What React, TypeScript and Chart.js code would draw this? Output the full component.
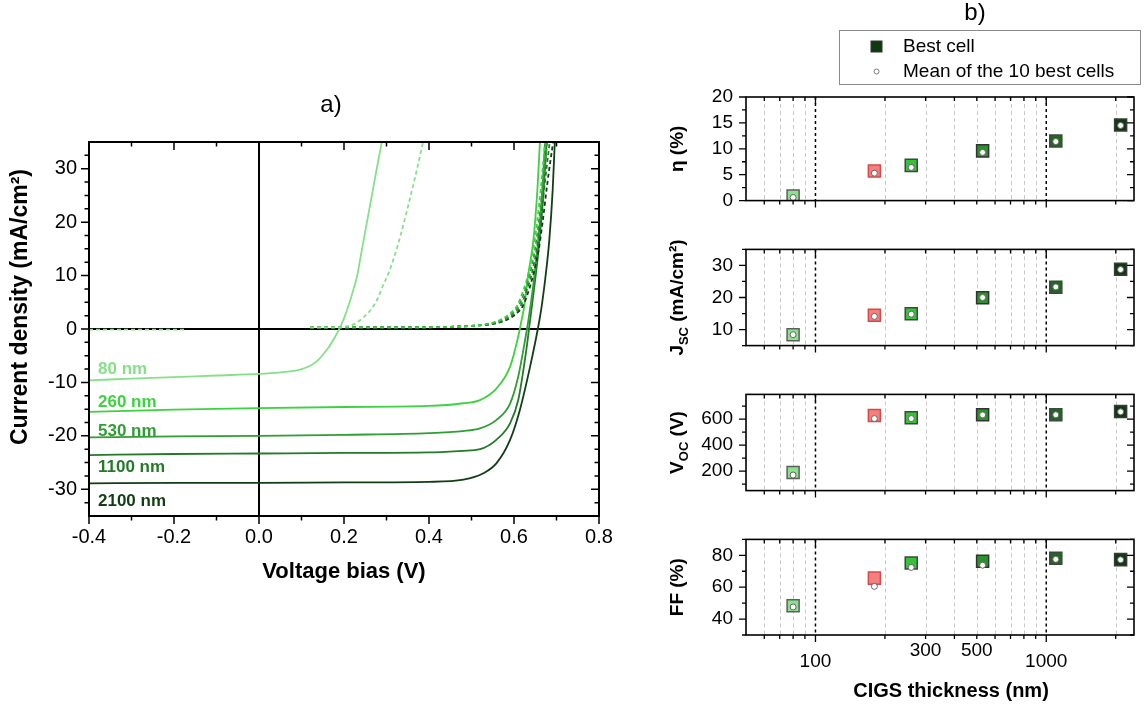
import React, { useEffect, useRef } from 'react';
import { Chart, registerables } from 'chart.js';

Chart.register(...registerables);

const FONT = '"Liberation Sans", Arial, Helvetica, sans-serif';

// ---------------- Panel a) : J-V curves ----------------
const jvXTicks = [-0.4, -0.2, 0, 0.2, 0.4, 0.6, 0.8];
const jvXMinor = [-0.3, -0.1, 0.1, 0.3, 0.5, 0.7];
const jvYTicks = [-30, -20, -10, 0, 10, 20, 30];
const jvYMinor = [-32.5, -27.5, -25, -22.5, -17.5, -15, -12.5, -7.5, -5, -2.5, 2.5, 5, 7.5, 12.5, 15, 17.5, 22.5, 25, 27.5, 32.5];

const curveNames = ['80 nm', '260 nm', '530 nm', '1100 nm', '2100 nm'];
const curveColors = ['#86E08A', '#3DD23F', '#2F9E35', '#237A28', '#123E15'];

// illuminated (solid) curves
const v80Light = [-0.4, -0.3, -0.2, -0.1, 0, 0.05, 0.096, 0.133, 0.161, 0.175, 0.189, 0.2, 0.21, 0.22, 0.231, 0.242, 0.254, 0.266, 0.277, 0.289];
const j80Light = [-9.6, -9.3, -9.0, -8.7, -8.4, -8.1, -7.6, -6.25, -3.75, -2.0, 0, 2.0, 4.2, 6.8, 10, 14.8, 20, 25.2, 30, 35];
const v260Light = [-0.4, -0.2, 0, 0.2, 0.4, 0.48, 0.52, 0.559, 0.591, 0.61, 0.618, 0.624, 0.634, 0.6455, 0.655, 0.661];
const j260Light = [-15.5, -15.1, -14.8, -14.6, -14.4, -13.9, -13.3, -11.1, -7.0, -1.4, 1.7, 4.2, 10.4, 16.6, 26, 35];
const v530Light = [-0.4, -0.2, 0, 0.2, 0.4, 0.48, 0.52, 0.559, 0.591, 0.61, 0.626, 0.634, 0.645, 0.655, 0.665, 0.673];
const j530Light = [-20.3, -20.1, -20.0, -19.8, -19.5, -19.1, -18.6, -17.0, -13.9, -8.9, -2.1, 1.7, 8, 15, 24, 35];
const v1100Light = [-0.4, -0.2, 0, 0.2, 0.4, 0.48, 0.52, 0.559, 0.591, 0.61, 0.629, 0.637, 0.648, 0.658, 0.668, 0.677];
const j1100Light = [-23.6, -23.4, -23.3, -23.2, -23.1, -22.8, -22.5, -20.7, -17.6, -13.3, -3.9, 1.1, 8, 15, 24, 35];
const v2100Light = [-0.4, -0.2, 0, 0.2, 0.4, 0.481, 0.528, 0.559, 0.591, 0.614, 0.638, 0.656, 0.665, 0.675, 0.683, 0.691, 0.696];
const j2100Light = [-28.9, -28.8, -28.8, -28.7, -28.6, -28.2, -27.0, -25.1, -20.7, -15.1, -7.0, 0, 4.2, 10.4, 16.6, 26, 35];

// dark (dashed) curves
const v80Dark = [-0.4, -0.3, -0.17, -0.16, 0.12, 0.18, 0.2, 0.226, 0.25, 0.264, 0.28, 0.291, 0.305, 0.319, 0.333, 0.347, 0.36, 0.37, 0.386];
const j80Dark = [-0.1, -0.1, -0.1, null, 0.3, 0.3, 0.4, 1, 2.5, 3.7, 5.8, 8, 10.5, 13.7, 17.5, 21.8, 26, 29.3, 35];
const v260Dark = [0.12, 0.3, 0.45, 0.5, 0.54, 0.57, 0.595, 0.606, 0.62, 0.634, 0.645, 0.654, 0.664, 0.673];
const j260Dark = [0.3, 0.3, 0.4, 0.6, 1.0, 1.8, 3.2, 4.2, 6.8, 10.4, 14.8, 19.8, 27, 35];
const v530Dark = [0.12, 0.3, 0.45, 0.5, 0.545, 0.575, 0.6, 0.61, 0.624, 0.638, 0.649, 0.658, 0.668, 0.678];
const j530Dark = [0.3, 0.3, 0.4, 0.6, 1.0, 1.8, 3.2, 4.2, 6.8, 10.4, 14.8, 19.8, 27, 35];
const v1100Dark = [0.12, 0.3, 0.45, 0.5, 0.55, 0.58, 0.605, 0.615, 0.628, 0.642, 0.653, 0.662, 0.672, 0.684];
const j1100Dark = [0.3, 0.3, 0.4, 0.6, 1.0, 1.8, 3.2, 4.2, 6.8, 10.4, 14.8, 19.8, 27, 35];
const v2100Dark = [0.12, 0.3, 0.45, 0.5, 0.555, 0.585, 0.61, 0.62, 0.633, 0.646, 0.658, 0.667, 0.678, 0.692];
const j2100Dark = [0.3, 0.3, 0.4, 0.6, 1.0, 1.8, 3.2, 4.2, 6.8, 10.4, 14.8, 19.8, 27, 35];

// ---------------- Panel b) : cell parameters vs thickness ----------------
const thicknessNm = [80, 180, 260, 530, 1100, 2100];
const etaBest = [0.9, 5.7, 6.8, 9.6, 11.5, 14.6];
const etaMean = [0.6, 5.3, 6.4, 9.3, 11.4, 14.5];
const jscBest = [8.4, 14.5, 14.9, 19.9, 23.2, 28.8];
const jscMean = [8.4, 14.1, 14.8, 20.0, 23.3, 28.7];
const vocBest = [190, 627, 611, 633, 634, 658];
const vocMean = [170, 604, 604, 632, 633, 656];
const ffBest = [48.3, 65.7, 75.2, 76.3, 78.2, 77.3];
const ffMean = [47.6, 60.5, 72.4, 73.8, 77.5, 77.2];

const markerFill = ['#8BE28D', '#F47F7F', '#35C437', '#2A922C', '#1D6A1F', '#0E3A10'];
const markerBorder = ['#5E5E5E', '#D94848', '#444444', '#333333', '#444444', '#3A3A3A'];

const logMajor = [100, 1000];
const logMinor = [60, 70, 80, 90, 200, 300, 400, 500, 600, 700, 800, 900, 2000];
const thicknessLabels = [100, 300, 500, 1000];

const etaTicks = [0, 5, 10, 15, 20];
const etaMinor = [2.5, 7.5, 12.5, 17.5];
const jscTicks = [10, 20, 30];
const jscMinor = [5, 15, 25, 35];
const vocTicks = [200, 400, 600];
const vocMinor = [100, 300, 500, 700];
const ffTicks = [40, 60, 80];
const ffMinor = [30, 50, 70, 90];

const legendLabels = ['Best cell', 'Mean of the 10 best cells'];

type Part = { t: string; sub?: boolean };

function drawRich(ctx: CanvasRenderingContext2D, parts: Part[], x: number, y: number, size: number, bold: boolean, rotate: boolean) {
  const w = bold ? 'bold ' : '';
  const fMain = `${w}${size}px ${FONT}`;
  const fSub = `${w}${Math.round(size * 0.68)}px ${FONT}`;
  let total = 0;
  const widths = parts.map((p) => {
    ctx.font = p.sub ? fSub : fMain;
    const m = ctx.measureText(p.t).width;
    total += m;
    return m;
  });
  ctx.save();
  ctx.translate(x, y);
  if (rotate) ctx.rotate(-Math.PI / 2);
  ctx.fillStyle = '#000';
  ctx.textBaseline = 'middle';
  ctx.textAlign = 'left';
  let cx = -total / 2;
  parts.forEach((p, i) => {
    ctx.font = p.sub ? fSub : fMain;
    ctx.fillText(p.t, cx, p.sub ? size * 0.32 : 0);
    cx += widths[i];
  });
  ctx.restore();
}

function framePlugin(spec: { xMajor: number[]; xMinor: number[]; yMajor: number[]; yMinor: number[]; major: number; minor: number; lw: number; frame: number }) {
  return {
    id: 'frameTicks',
    afterDatasetsDraw(chart: any) {
      const { ctx, chartArea: a, scales } = chart;
      const xs = scales.x;
      const ys = scales.y;
      ctx.save();
      ctx.strokeStyle = '#000';
      ctx.setLineDash([]);
      ctx.lineWidth = spec.lw;
      ctx.beginPath();
      const xt = (vals: number[], len: number) =>
        vals.forEach((v) => {
          const px = xs.getPixelForValue(v);
          if (px < a.left - 0.5 || px > a.right + 0.5) return;
          ctx.moveTo(px, a.bottom);
          ctx.lineTo(px, a.bottom + len);
          ctx.moveTo(px, a.top);
          ctx.lineTo(px, a.top + len);
        });
      const yt = (vals: number[], len: number) =>
        vals.forEach((v) => {
          const py = ys.getPixelForValue(v);
          if (py < a.top - 0.5 || py > a.bottom + 0.5) return;
          ctx.moveTo(a.left, py);
          ctx.lineTo(a.left - len, py);
          ctx.moveTo(a.right, py);
          ctx.lineTo(a.right - len, py);
        });
      xt(spec.xMajor, spec.major);
      xt(spec.xMinor, spec.minor);
      yt(spec.yMajor, spec.major);
      yt(spec.yMinor, spec.minor);
      ctx.stroke();
      ctx.lineWidth = spec.frame;
      ctx.strokeRect(a.left, a.top, a.right - a.left, a.bottom - a.top);
      ctx.restore();
    },
  };
}

function pts(xs: number[], ys: (number | null)[]) {
  return xs.map((x, i) => ({ x, y: ys[i] }));
}

function buildLeft(): any {
  const solid = [
    [v80Light, j80Light],
    [v260Light, j260Light],
    [v530Light, j530Light],
    [v1100Light, j1100Light],
    [v2100Light, j2100Light],
  ];
  const dashed = [
    [v80Dark, j80Dark],
    [v260Dark, j260Dark],
    [v530Dark, j530Dark],
    [v1100Dark, j1100Dark],
    [v2100Dark, j2100Dark],
  ];
  const datasets: any[] = [];
  dashed.forEach(([v, j], i) =>
    datasets.push({
      label: curveNames[i] + ' dark',
      data: pts(v as number[], j as (number | null)[]),
      borderColor: curveColors[i],
      borderWidth: 1.8,
      borderDash: [4, 3],
      pointRadius: 0,
      cubicInterpolationMode: 'monotone',
      spanGaps: false,
      fill: false,
    })
  );
  solid.forEach(([v, j], i) =>
    datasets.push({
      label: curveNames[i],
      data: pts(v as number[], j as number[]),
      borderColor: curveColors[i],
      borderWidth: 1.8,
      pointRadius: 0,
      cubicInterpolationMode: 'monotone',
      fill: false,
    })
  );
  const labelY = [369, 402, 431, 467, 501];
  return {
    type: 'line',
    data: { datasets },
    options: {
      animation: false,
      responsive: false,
      maintainAspectRatio: false,
      layout: { padding: { left: 0, top: 142, right: 41, bottom: 0 } },
      plugins: { legend: { display: false }, tooltip: { enabled: false } },
      scales: {
        x: {
          type: 'linear',
          min: -0.4,
          max: 0.8,
          afterFit: (s: any) => { s.height = 84; },
          afterBuildTicks: (s: any) => { s.ticks = jvXTicks.map((v) => ({ value: v })); },
          ticks: {
            callback: (v: any) => Number(v).toFixed(1),
            font: { family: FONT, size: 20 },
            color: '#000',
            padding: 9,
            maxRotation: 0,
            autoSkip: false,
          },
          grid: { display: false, drawTicks: false },
          border: { display: false },
          title: {
            display: true,
            text: 'Voltage bias (V)',
            font: { family: FONT, size: 22, weight: 'bold' },
            color: '#000',
            padding: { top: 0, bottom: 15 },
          },
        },
        y: {
          type: 'linear',
          min: -35,
          max: 35,
          afterFit: (s: any) => { s.width = 89; },
          afterBuildTicks: (s: any) => { s.ticks = jvYTicks.map((v) => ({ value: v })); },
          ticks: { font: { family: FONT, size: 20 }, color: '#000', padding: 12, autoSkip: false },
          grid: { display: false, drawTicks: false },
          border: { display: false },
        },
      },
    },
    plugins: [
      {
        id: 'zeroLines',
        beforeDatasetsDraw(chart: any) {
          const { ctx, chartArea: a, scales } = chart;
          const x0 = scales.x.getPixelForValue(0);
          const y0 = scales.y.getPixelForValue(0);
          ctx.save();
          ctx.strokeStyle = '#000';
          ctx.lineWidth = 2;
          ctx.beginPath();
          ctx.moveTo(x0, a.top);
          ctx.lineTo(x0, a.bottom);
          ctx.moveTo(a.left, y0);
          ctx.lineTo(a.right, y0);
          ctx.stroke();
          ctx.restore();
        },
      },
      framePlugin({ xMajor: jvXTicks, xMinor: jvXMinor, yMajor: jvYTicks, yMinor: jvYMinor, major: 8, minor: 4.5, lw: 1.5, frame: 2 }),
      {
        id: 'texts',
        afterDraw(chart: any) {
          const { ctx } = chart;
          ctx.save();
          ctx.fillStyle = '#000';
          ctx.font = `24px ${FONT}`;
          ctx.textAlign = 'center';
          ctx.textBaseline = 'middle';
          ctx.fillText('a)', 331, 105);
          ctx.restore();
          drawRich(ctx, [{ t: 'Current density (mA/cm²)' }], 21, 307, 23, true, true);
          ctx.save();
          ctx.textAlign = 'left';
          ctx.textBaseline = 'middle';
          curveNames.forEach((n, i) => {
            ctx.font = `bold 17px ${FONT}`;
            ctx.fillStyle = curveColors[i];
            ctx.fillText(n, 98, labelY[i]);
          });
          ctx.restore();
        },
      },
    ],
  };
}

function buildPanel(o: {
  yMin: number; yMax: number; yTicks: number[]; yMinor: number[];
  best: number[]; mean: number[]; padTop: number; axisH: number;
  title: Part[]; showX: boolean; legend: boolean;
}): any {
  return {
    type: 'scatter',
    data: {
      datasets: [
        {
          label: legendLabels[1],
          data: thicknessNm.map((t, i) => ({ x: t, y: o.mean[i] })),
          pointStyle: 'circle',
          pointRadius: 3,
          backgroundColor: '#ffffff',
          borderColor: '#666666',
          borderWidth: 1,
          order: 0,
        },
        {
          label: legendLabels[0],
          data: thicknessNm.map((t, i) => ({ x: t, y: o.best[i] })),
          pointStyle: 'rect',
          pointRadius: 8.5,
          backgroundColor: markerFill,
          borderColor: markerBorder,
          borderWidth: 1.5,
          order: 1,
        },
      ],
    },
    options: {
      animation: false,
      responsive: false,
      maintainAspectRatio: false,
      layout: { padding: { left: 0, top: o.padTop, right: 9, bottom: 0 } },
      plugins: { legend: { display: false }, tooltip: { enabled: false } },
      scales: {
        x: {
          type: 'logarithmic',
          min: 50,
          max: 2400,
          afterFit: (s: any) => { s.height = o.axisH; },
          ticks: { display: false },
          grid: { display: false, drawTicks: false },
          border: { display: false },
        },
        y: {
          type: 'linear',
          min: o.yMin,
          max: o.yMax,
          afterFit: (s: any) => { s.width = 106; },
          afterBuildTicks: (s: any) => { s.ticks = o.yTicks.map((v) => ({ value: v })); },
          ticks: { font: { family: FONT, size: 19 }, color: '#000', padding: 13, autoSkip: false },
          grid: { display: false, drawTicks: false },
          border: { display: false },
        },
      },
    },
    plugins: [
      {
        id: 'logGrid',
        beforeDatasetsDraw(chart: any) {
          const { ctx, chartArea: a, scales } = chart;
          ctx.save();
          ctx.lineWidth = 1;
          ctx.strokeStyle = '#c8c8c8';
          ctx.setLineDash([4, 3]);
          ctx.beginPath();
          logMinor.forEach((v) => {
            const px = Math.round(scales.x.getPixelForValue(v)) + 0.5;
            ctx.moveTo(px, a.top);
            ctx.lineTo(px, a.bottom);
          });
          ctx.stroke();
          ctx.strokeStyle = '#000';
          ctx.lineWidth = 1.5;
          ctx.setLineDash([3, 3]);
          ctx.beginPath();
          logMajor.forEach((v) => {
            const px = scales.x.getPixelForValue(v);
            ctx.moveTo(px, a.top);
            ctx.lineTo(px, a.bottom);
          });
          ctx.stroke();
          ctx.restore();
        },
      },
      framePlugin({ xMajor: logMajor, xMinor: [...logMinor], yMajor: o.yTicks, yMinor: o.yMinor, major: 7, minor: 4, lw: 1.3, frame: 1.6 }),
      {
        id: 'panelTexts',
        afterDraw(chart: any) {
          const { ctx, chartArea: a, scales } = chart;
          drawRich(ctx, o.title, 38, (a.top + a.bottom) / 2, 19, true, true);
          if (o.showX) {
            ctx.save();
            ctx.fillStyle = '#000';
            ctx.font = `19px ${FONT}`;
            ctx.textAlign = 'center';
            ctx.textBaseline = 'middle';
            thicknessLabels.forEach((v) => {
              const px = scales.x.getPixelForValue(v);
              const raised = v === 300 || v === 500;
              ctx.fillText(String(v), px, a.bottom + (raised ? 16 : 27));
            });
            ctx.restore();
            drawRich(ctx, [{ t: 'CIGS thickness (nm)' }], 311, a.bottom + 56, 20, true, false);
          }
          if (o.legend) {
            ctx.save();
            ctx.fillStyle = '#000';
            ctx.font = `24px ${FONT}`;
            ctx.textAlign = 'center';
            ctx.textBaseline = 'middle';
            ctx.fillText('b)', 335, 13);
            ctx.strokeStyle = '#8a8a8a';
            ctx.lineWidth = 1;
            ctx.strokeRect(199.5, 30.5, 301, 54);
            ctx.fillStyle = '#0E3A10';
            ctx.strokeStyle = '#333';
            ctx.fillRect(231, 41, 11, 11);
            ctx.strokeRect(231, 41, 11, 11);
            ctx.beginPath();
            ctx.arc(236.5, 71.5, 2.5, 0, Math.PI * 2);
            ctx.fillStyle = '#fff';
            ctx.fill();
            ctx.strokeStyle = '#777';
            ctx.stroke();
            ctx.fillStyle = '#000';
            ctx.font = `19px ${FONT}`;
            ctx.textAlign = 'left';
            ctx.fillText(legendLabels[0], 263, 46.5);
            ctx.fillText(legendLabels[1], 263, 71.5);
            ctx.restore();
          }
        },
      },
    ],
  };
}

function ChartCanvas({ x, y, w, h, build }: { x: number; y: number; w: number; h: number; build: () => any }) {
  const ref = useRef<HTMLCanvasElement>(null);
  useEffect(() => {
    const chart = new Chart(ref.current as HTMLCanvasElement, build());
    return () => chart.destroy();
  }, []);
  return (
    <canvas
      ref={ref}
      width={w}
      height={h}
      style={{ position: 'absolute', left: x, top: y, width: w, height: h }}
    />
  );
}

export default function App() {
  return (
    <div style={{ position: 'absolute', left: 0, top: 0, width: 1144, height: 707, background: '#fff', overflow: 'hidden' }}>
      <ChartCanvas x={0} y={0} w={640} h={600} build={buildLeft} />
      <ChartCanvas
        x={640} y={0} w={504} h={225}
        build={() => buildPanel({ yMin: 0, yMax: 20, yTicks: etaTicks, yMinor: etaMinor, best: etaBest, mean: etaMean, padTop: 97, axisH: 17, title: [{ t: 'η (%)' }], showX: false, legend: true })}
      />
      <ChartCanvas
        x={640} y={225} w={504} h={145}
        build={() => buildPanel({ yMin: 5, yMax: 35, yTicks: jscTicks, yMinor: jscMinor, best: jscBest, mean: jscMean, padTop: 13, axisH: 20, title: [{ t: 'J' }, { t: 'SC', sub: true }, { t: ' (mA/cm²)' }], showX: false, legend: false })}
      />
      <ChartCanvas
        x={640} y={370} w={504} h={145}
        build={() => buildPanel({ yMin: 50, yMax: 790, yTicks: vocTicks, yMinor: vocMinor, best: vocBest, mean: vocMean, padTop: 11, axisH: 22, title: [{ t: 'V' }, { t: 'OC', sub: true }, { t: ' (V)' }], showX: false, legend: false })}
      />
      <ChartCanvas
        x={640} y={515} w={504} h={192}
        build={() => buildPanel({ yMin: 30, yMax: 90, yTicks: ffTicks, yMinor: ffMinor, best: ffBest, mean: ffMean, padTop: 8, axisH: 72, title: [{ t: 'FF (%)' }], showX: true, legend: false })}
      />
    </div>
  );
}
